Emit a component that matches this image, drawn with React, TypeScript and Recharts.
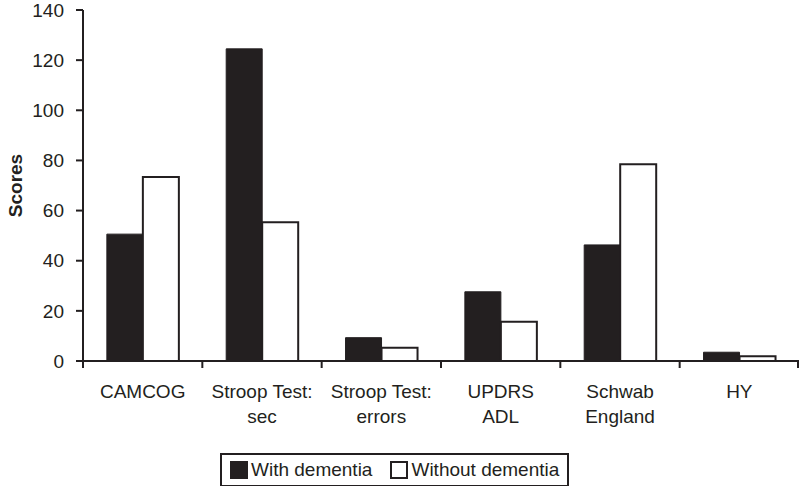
import React from "react";
import { BarChart, Bar, XAxis, YAxis, Legend, Label } from "recharts";

const categories = [
  "CAMCOG",
  "Stroop Test:\nsec",
  "Stroop Test:\nerrors",
  "UPDRS\nADL",
  "Schwab\nEngland",
  "HY",
];
const withDementia = [50.6, 124.5, 9.3, 27.6, 46.3, 3.5];
const withoutDementia = [73.4, 55.3, 5.3, 15.7, 78.5, 1.9];
const yTicks = [0, 20, 40, 60, 80, 100, 120, 140];
const seriesNames = ["With dementia", "Without dementia"];

const data = categories.map((c, i) => ({
  name: c,
  a: withDementia[i],
  b: withoutDementia[i],
}));

const INK = "#231f20";
const FONT = "'Liberation Sans', Arial, Helvetica, sans-serif";

const CatTick = (props: any) => {
  const { x, y, payload, index, visibleTicksCount } = props;
  const lines = String(payload.value).split("\n");
  const half = Number(payload.offset) || 0;
  const isLast = index === visibleTicksCount - 1;
  return (
    <g transform={`translate(${x},${y})`}>
      {half > 0 && (
        <line x1={-half} x2={-half} y1={0} y2={7} stroke={INK} strokeWidth={2} />
      )}
      {half > 0 && isLast && (
        <line x1={half - 1} x2={half - 1} y1={0} y2={7} stroke={INK} strokeWidth={2} />
      )}
      <text textAnchor="middle" fill={INK} fontSize={19} fontFamily={FONT}>
        {lines.map((l, i) => (
          <tspan key={i} x={0} dy={i === 0 ? 37 : 25}>
            {l}
          </tspan>
        ))}
      </text>
    </g>
  );
};

const LegendBox = () => (
  <div
    style={{
      display: "inline-flex",
      alignItems: "center",
      border: `2px solid ${INK}`,
      padding: "4px 8px",
      fontFamily: FONT,
      fontSize: 19,
      color: INK,
      background: "#fff",
      lineHeight: "22px",
    }}
  >
    <span
      style={{
        display: "inline-block",
        width: 16,
        height: 16,
        background: INK,
        border: `1px solid ${INK}`,
        marginRight: 3,
      }}
    />
    <span style={{ marginRight: 18 }}>{seriesNames[0]}</span>
    <span
      style={{
        display: "inline-block",
        width: 14,
        height: 14,
        background: "#fff",
        border: `2px solid ${INK}`,
        marginRight: 3,
      }}
    />
    <span>{seriesNames[1]}</span>
  </div>
);

export default function App() {
  return (
    <div style={{ position: "absolute", left: 0, top: 0, background: "#fff" }}>
      <BarChart
        width={800}
        height={486}
        data={data}
        margin={{ top: 10, right: 1, left: 0, bottom: 0 }}
        barCategoryGap="20%"
        barGap={0}
      >
        <XAxis
          dataKey="name"
          type="category"
          height={92}
          tickLine={false}
          tickSize={0}
          tickMargin={0}
          interval={0}
          axisLine={{ stroke: INK, strokeWidth: 2 }}
          tick={<CatTick />}
        />
        <YAxis
          width={83}
          domain={[0, 140]}
          ticks={yTicks}
          interval={0}
          tickSize={7}
          tickMargin={12}
          axisLine={{ stroke: INK, strokeWidth: 2 }}
          tickLine={{ stroke: INK, strokeWidth: 2 }}
          tick={{ fill: INK, fontSize: 19, fontFamily: FONT }}
        >
          <Label
            content={(p: any) => {
              const vb = p.viewBox;
              const cx = vb.x + 22;
              const cy = vb.y + vb.height / 2;
              return (
                <text
                  x={cx}
                  y={cy}
                  transform={`rotate(-90 ${cx} ${cy})`}
                  textAnchor="middle"
                  fill={INK}
                  fontSize={19}
                  fontWeight="bold"
                  fontFamily={FONT}
                >
                  Scores
                </text>
              );
            }}
          />
        </YAxis>
        <Legend
          verticalAlign="bottom"
          height={33}
          content={<LegendBox />}
          wrapperStyle={{ left: 220, bottom: 0, width: "auto" }}
        />
        <Bar
          dataKey="a"
          name={seriesNames[0]}
          fill={INK}
          stroke={INK}
          strokeWidth={1}
          isAnimationActive={false}
        />
        <Bar
          dataKey="b"
          name={seriesNames[1]}
          fill="#ffffff"
          stroke={INK}
          strokeWidth={2}
          isAnimationActive={false}
        />
      </BarChart>
    </div>
  );
}
